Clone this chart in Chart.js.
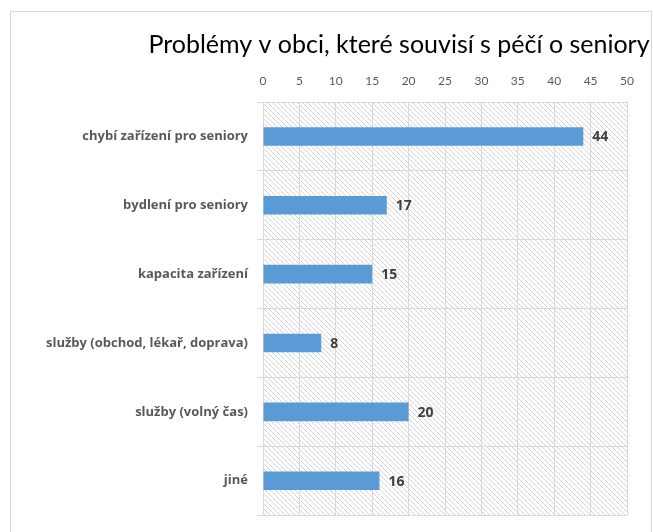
<!DOCTYPE html>
<html lang="cs">
<head>
  <meta charset="UTF-8" />
  <title>Problémy v obci, které souvisí s péčí o seniory</title>
  <script src="https://cdn.jsdelivr.net/npm/chart.js"></script>
  <style>
    body {
      margin: 0;
      background: #fff;
    }
    .frame {
      position: absolute;
      left: 10px;
      top: 11px;
      width: 642px;
      height: 530px;
      border: 1px solid #d9d9d9;
      border-bottom: none;
      box-sizing: border-box;
    }
    #chart {
      position: absolute;
      left: 0;
      top: 0;
    }
  </style>
</head>
<body>
  <div class="frame"></div>
  <canvas id="chart" width="653" height="532"></canvas>

  <script>
    // data
    const title = 'Problémy v obci, které souvisí s péčí o seniory';
    const categories = [
      'chybí zařízení pro seniory',
      'bydlení pro seniory',
      'kapacita zařízení',
      'služby (obchod, lékař, doprava)',
      'služby (volný čas)',
      'jiné'
    ];
    const counts = [44, 17, 15, 8, 20, 16];
    const xMin = 0, xMax = 50, xStep = 5;

    // diagonal hatch for the plot background
    function makeHatch() {
      const c = document.createElement('canvas');
      c.width = 5; c.height = 5;
      const g = c.getContext('2d');
      g.strokeStyle = '#d4d4d4';
      g.lineWidth = 1;
      g.beginPath();
      g.moveTo(0, 0); g.lineTo(5, 5);
      g.moveTo(-1, 4); g.lineTo(1, 6);
      g.moveTo(4, -1); g.lineTo(6, 1);
      g.stroke();
      return g.createPattern(c, 'repeat');
    }

    const hatchPlugin = {
      id: 'hatch',
      beforeDraw(chart) {
        const { ctx, chartArea: a } = chart;
        ctx.save();
        ctx.fillStyle = makeHatch();
        ctx.fillRect(a.left, a.top, a.right - a.left, a.bottom - a.top);
        ctx.restore();
      }
    };

    const titlePlugin = {
      id: 'bigTitle',
      afterDraw(chart) {
        const ctx = chart.ctx;
        ctx.save();
        ctx.font = '25px Lato';
        ctx.fillStyle = '#000';
        ctx.textAlign = 'center';
        ctx.textBaseline = 'middle';
        ctx.fillText(title, 399, 45);
        ctx.restore();
      }
    };

    const valueLabels = {
      id: 'valueLabels',
      afterDatasetsDraw(chart) {
        const ctx = chart.ctx;
        const meta = chart.getDatasetMeta(0);
        ctx.save();
        ctx.font = 'bold 14px "Open Sans"';
        ctx.fillStyle = '#404040';
        ctx.textAlign = 'left';
        ctx.textBaseline = 'middle';
        meta.data.forEach((bar, i) => {
          ctx.fillText(counts[i], bar.x + 9, bar.y + 1);
        });
        ctx.restore();
      }
    };

    new Chart(document.getElementById('chart'), {
      type: 'bar',
      data: {
        labels: categories,
        datasets: [{
          data: counts,
          backgroundColor: '#5b9bd5',
          barPercentage: 0.27,
          categoryPercentage: 1
        }]
      },
      options: {
        indexAxis: 'y',
        responsive: false,
        animation: false,
        layout: { padding: { top: 61, right: 26, bottom: 14, left: 0 } },
        plugins: {
          legend: { display: false },
          tooltip: { enabled: false }
        },
        scales: {
          x: {
            position: 'top',
            min: xMin,
            max: xMax,
            ticks: {
              stepSize: xStep,
              color: '#595959',
              font: { family: 'Lato', size: 12 },
              padding: 14
            },
            grid: { color: '#d9d9d9', drawTicks: false },
            border: { color: '#d9d9d9' },
            afterFit(scale) { scale.height = 41; }
          },
          y: {
            ticks: {
              color: '#595959',
              font: { family: 'Open Sans', size: 13, weight: 'bold' },
              padding: 9
            },
            grid: { color: '#d9d9d9', tickLength: 6, offset: true },
            border: { color: '#d9d9d9' },
            afterFit(scale) { scale.width = 263; }
          }
        }
      },
      plugins: [hatchPlugin, titlePlugin, valueLabels]
    });
  </script>
</body>
</html>
